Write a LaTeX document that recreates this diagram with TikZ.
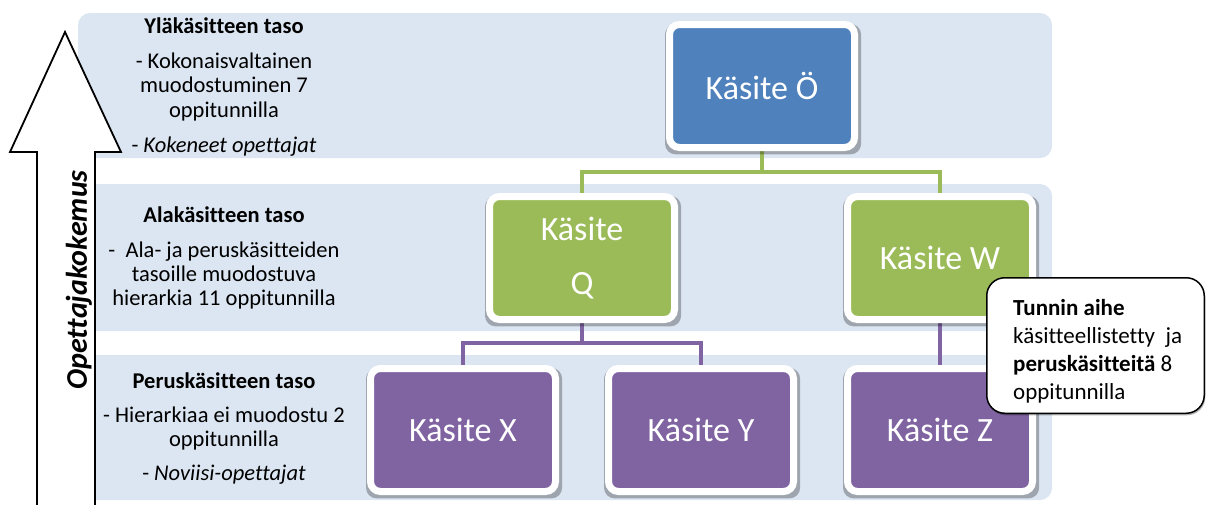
\documentclass[tikz,border=0pt]{standalone}
\usepackage{fontspec}
\setmainfont{Carlito}[Ligatures=NoCommon]
\usetikzlibrary{shadows}
\definecolor{bandfill}{HTML}{DCE6F2}
\definecolor{cblue}{HTML}{4F81BD}
\definecolor{cgreen}{HTML}{9BBB59}
\definecolor{cpurple}{HTML}{8064A2}

\begin{document}
\begin{tikzpicture}[x=1pt,y=-1pt,
  levelband/.style={fill=bandfill, rounded corners=12pt},
  concept/.style={draw=white, line width=7pt, rounded corners=10pt,
    minimum width=185pt, minimum height=123pt, inner sep=0pt,
    text=white, align=center, font=\fontsize{34}{54}\selectfont,
    drop shadow={shadow scale=1.06, shadow xshift=1pt, shadow yshift=-3pt,
      opacity=0.28, fill=black}},
  greenlink/.style={draw=cgreen, line width=4pt},
  purplelink/.style={draw=cpurple, line width=4pt},
  lvltext/.style={anchor=base, inner sep=0pt, font=\fontsize{22.5}{25}\selectfont},
  notetext/.style={anchor=base west, inner sep=0pt, font=\fontsize{23}{28}\selectfont},
]
\useasboundingbox (0,0) rectangle (1207,504);

% level bands
\fill[levelband] (78,13) rectangle (1052,158);
\fill[levelband] (78,184) rectangle (1052,331);
\fill[levelband] (78,355) rectangle (1052,500);

% bus points of the tree
\coordinate (gbus) at (762,172);
\coordinate (pbus) at (582,343);
\coordinate (Otop) at (762,86);
\coordinate (Qc) at (582,258);
\coordinate (Wc) at (940,258);
\coordinate (Xc) at (463,430);
\coordinate (Yc) at (701,430);
\coordinate (Zc) at (940,430);

% connectors, drawn first so the boxes cover their ends
\draw[greenlink] (Otop) -- (gbus) -| (Qc);
\draw[greenlink] (gbus) -| (Wc);
\draw[purplelink] (Qc) -- (pbus) -| (Xc);
\draw[purplelink] (pbus) -| (Yc);
\draw[purplelink] (Wc) -- (Zc);

% concept boxes
\node[concept, fill=cblue]   (O) at (Otop) {Käsite Ö};
\node[concept, fill=cgreen]  (Q) at (Qc) {Käsite\\Q};
\node[concept, fill=cgreen]  (W) at (Wc) {Käsite W};
\node[concept, fill=cpurple] (X) at (Xc) {Käsite X};
\node[concept, fill=cpurple] (Y) at (Yc) {Käsite Y};
\node[concept, fill=cpurple] (Z) at (Zc) {Käsite Z};

% experience arrow
\draw[line width=1.8pt, fill=white]
  (37,512) -- (37,152) -- (10,152) -- (65,32) -- (121,152)
  -- (95,152) -- (95,512) -- cycle;
\node[rotate=90, inner sep=0pt, font=\fontsize{30}{31}\selectfont\bfseries\itshape]
  (exp) at (79,280) {Opettajakokemus};

% level descriptions
\node[lvltext] (t1a) at (224,33)  {\textbf{Yläkäsitteen taso}};
\node[lvltext] (t1b) at (224,68)  {- Kokonaisvaltainen};
\node[lvltext] (t1c) at (224,92)  {muodostuminen 7};
\node[lvltext] (t1d) at (224,117) {oppitunnilla};
\node[lvltext] (t1e) at (224,152) {- \textit{Kokeneet opettajat}};

\node[lvltext] (t2a) at (224,222) {\textbf{Alakäsitteen taso}};
\node[lvltext] (t2b) at (224,257) {-\ \ Ala- ja peruskäsitteiden};
\node[lvltext] (t2c) at (224,281) {tasoille muodostuva};
\node[lvltext] (t2d) at (224,305) {hierarkia 11 oppitunnilla};

\node[lvltext] (t3a) at (224,388) {\textbf{Peruskäsitteen taso}};
\node[lvltext] (t3b) at (224,422) {- Hierarkiaa ei muodostu 2};
\node[lvltext] (t3c) at (224,446) {oppitunnilla};
\node[lvltext] (t3d) at (224,480) {- \textit{Noviisi-opettajat}};

% note
\node[draw=black, line width=1.5pt, fill=white, rounded corners=18pt,
  minimum width=217.5pt, minimum height=135.5pt,
  drop shadow={shadow xshift=1pt, shadow yshift=-2pt, opacity=0.3, fill=black}]
  (note) at (1095.5,345.5) {};
\node[notetext] (n1) at (1013,315) {\textbf{Tunnin aihe}};
\node[notetext] (n2) at (1013,343) {käsitteellistetty\ \ ja};
\node[notetext] (n3) at (1013,371) {\textbf{peruskäsitteitä} 8};
\node[notetext] (n4) at (1013,399) {oppitunnilla};
\end{tikzpicture}
\end{document}
